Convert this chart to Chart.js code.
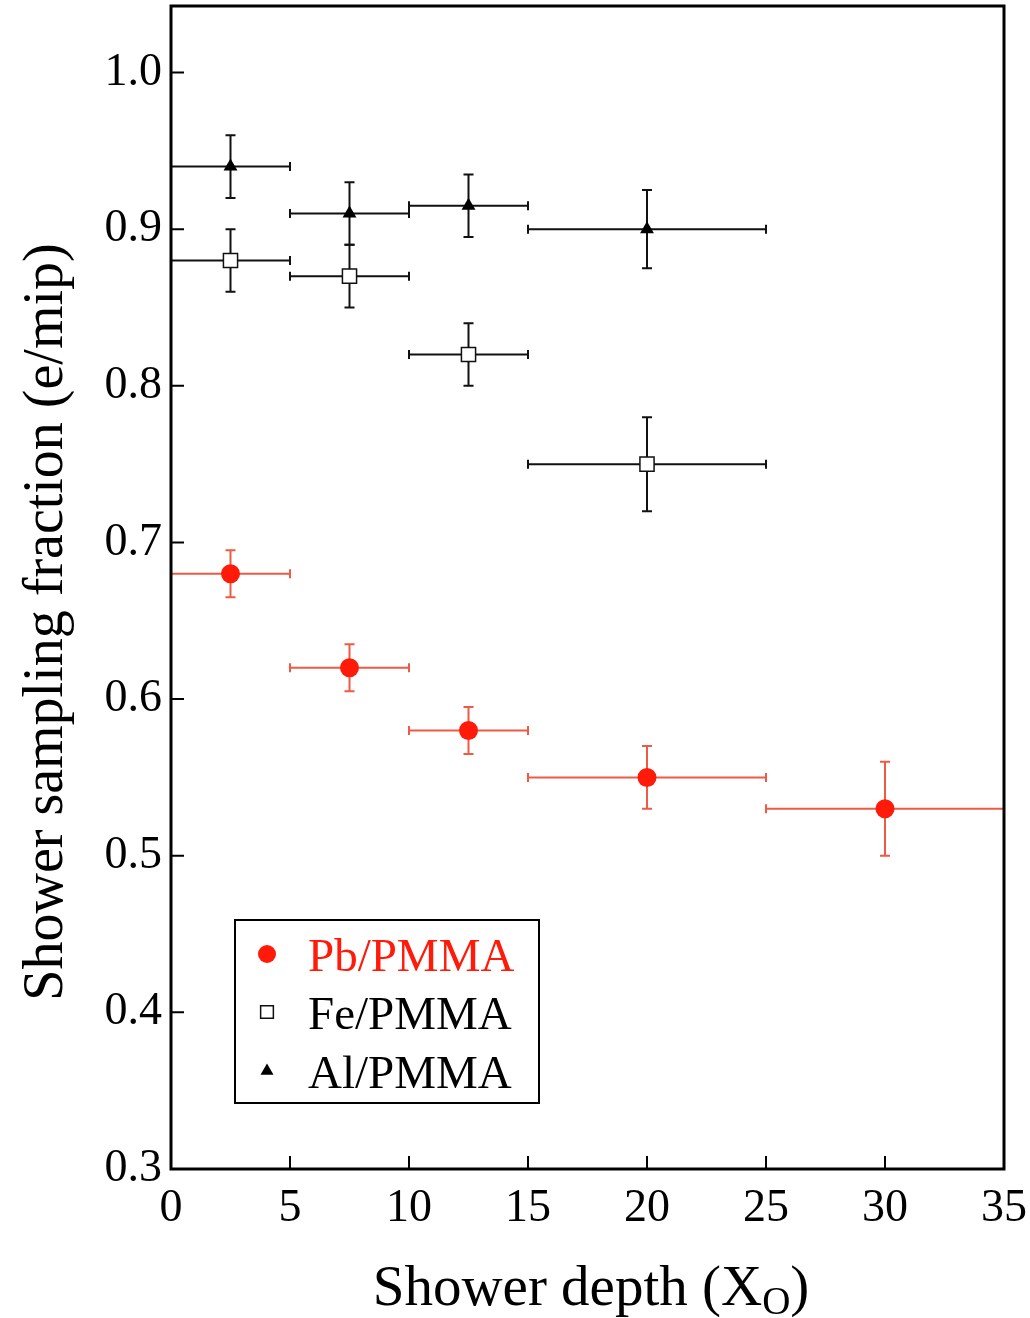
<!DOCTYPE html>
<html>
<head>
<meta charset="utf-8">
<script src="https://cdn.jsdelivr.net/npm/chart.js@4.4.0/dist/chart.umd.min.js"></script>
<style>
  html, body { margin: 0; padding: 0; background: #fff; }
  canvas { display: block; }
</style>
</head>
<body>
<canvas id="samplingChart" width="1030" height="1318"></canvas>
<script>
// Pb/PMMA
const pbDepth = [2.5, 7.5, 12.5, 20, 30];
const pbDepthErr = [2.5, 2.5, 2.5, 5, 5];
const pbFraction = [0.68, 0.62, 0.58, 0.55, 0.53];
const pbFractionErr = [0.015, 0.015, 0.015, 0.02, 0.03];

// Fe/PMMA
const feDepth = [2.5, 7.5, 12.5, 20];
const feDepthErr = [2.5, 2.5, 2.5, 5];
const feFraction = [0.88, 0.87, 0.82, 0.75];
const feFractionErr = [0.02, 0.02, 0.02, 0.03];

// Al/PMMA
const alDepth = [2.5, 7.5, 12.5, 20];
const alDepthErr = [2.5, 2.5, 2.5, 5];
const alFraction = [0.94, 0.91, 0.915, 0.90];
const alFractionErr = [0.02, 0.02, 0.02, 0.025];

const xTicks = [0, 5, 10, 15, 20, 25, 30, 35];
const yTicks = [0.3, 0.4, 0.5, 0.6, 0.7, 0.8, 0.9, 1.0];

const SERIF = "'Liberation Serif', 'Times New Roman', serif";
const RED = '#ff1a0a';

function toPoints(xs, ys) {
    return xs.map((x, i) => ({ x: x, y: ys[i] }));
}

// error bars, drawn under the markers
const errorBars = {
    id: 'errorBars',
    beforeDatasetsDraw(chart) {
        const ctx = chart.ctx;
        const xs = chart.scales.x;
        const ys = chart.scales.y;
        chart.data.datasets.forEach(ds => {
            ctx.save();
            ctx.strokeStyle = ds.errColor;
            ctx.lineWidth = 2;
            ds.data.forEach((p, i) => {
                const px = xs.getPixelForValue(p.x);
                const py = ys.getPixelForValue(p.y);
                const x0 = xs.getPixelForValue(p.x - ds.xErr[i]);
                const x1 = xs.getPixelForValue(p.x + ds.xErr[i]);
                const y0 = ys.getPixelForValue(p.y - ds.yErr[i]);
                const y1 = ys.getPixelForValue(p.y + ds.yErr[i]);
                ctx.beginPath();
                ctx.moveTo(x0, py); ctx.lineTo(x1, py);
                ctx.moveTo(x0, py - 4.5); ctx.lineTo(x0, py + 4.5);
                ctx.moveTo(x1, py - 4.5); ctx.lineTo(x1, py + 4.5);
                ctx.moveTo(px, y0); ctx.lineTo(px, y1);
                ctx.moveTo(px - 5, y0); ctx.lineTo(px + 5, y0);
                ctx.moveTo(px - 5, y1); ctx.lineTo(px + 5, y1);
                ctx.stroke();
            });
            ctx.restore();
        });
    }
};

// frame, inward ticks, axis titles, legend box
const decorations = {
    id: 'decorations',
    afterDraw(chart) {
        const ctx = chart.ctx;
        const a = chart.chartArea;
        const xs = chart.scales.x;
        const ys = chart.scales.y;
        ctx.save();

        ctx.strokeStyle = '#000';
        ctx.lineWidth = 2;
        ctx.beginPath();
        yTicks.forEach(v => {
            const y = ys.getPixelForValue(v);
            ctx.moveTo(a.left, y); ctx.lineTo(a.left + 13, y);
        });
        xTicks.forEach(v => {
            const x = xs.getPixelForValue(v);
            ctx.moveTo(x, a.bottom); ctx.lineTo(x, a.bottom - 13);
        });
        ctx.stroke();

        ctx.lineWidth = 3;
        ctx.strokeRect(a.left, a.top, a.right - a.left, a.bottom - a.top);

        // y title
        ctx.fillStyle = '#000';
        ctx.font = '56px ' + SERIF;
        ctx.textAlign = 'center';
        ctx.textBaseline = 'alphabetic';
        ctx.save();
        ctx.translate(62, 622);
        ctx.rotate(-Math.PI / 2);
        ctx.fillText('Shower sampling fraction (e/mip)', 0, 0);
        ctx.restore();

        // x title with subscript
        ctx.textAlign = 'left';
        const main = 'Shower depth (X';
        const big = '57px ' + SERIF;
        const small = '39px ' + SERIF;
        ctx.font = big;
        const w1 = ctx.measureText(main).width;
        const w3 = ctx.measureText(')').width;
        ctx.font = small;
        const w2 = ctx.measureText('O').width;
        let x = 591 - (w1 + w2 + w3) / 2;
        const base = 1305;
        ctx.font = big;
        ctx.fillText(main, x, base);
        x += w1;
        ctx.font = small;
        ctx.fillText('O', x, base + 9);
        x += w2;
        ctx.font = big;
        ctx.fillText(')', x, base);

        // legend
        ctx.lineWidth = 2;
        ctx.strokeRect(235, 920, 304, 183);
        const rows = chart.data.datasets;
        const rowY = [954, 1012, 1071];
        rows.forEach((ds, i) => {
            const cy = rowY[i];
            ctx.fillStyle = ds.legendFill;
            ctx.strokeStyle = ds.borderColor;
            ctx.lineWidth = ds.legendBorder;
            Chart.helpers.drawPoint(ctx, {
                pointStyle: ds.pointStyle,
                radius: ds.legendRadius,
                rotation: 0,
                borderWidth: ds.legendBorder
            }, 267, cy);
            ctx.fillStyle = ds.textColor;
            ctx.font = '47px ' + SERIF;
            ctx.textBaseline = 'alphabetic';
            ctx.fillText(ds.label, 308, cy + 17);
        });

        ctx.restore();
    }
};

function noPad(s) {
    s.paddingTop = 0;
    s.paddingBottom = 0;
    s.paddingLeft = 0;
    s.paddingRight = 0;
}

new Chart(document.getElementById('samplingChart'), {
    type: 'scatter',
    data: {
        datasets: [
            {
                label: 'Pb/PMMA',
                data: toPoints(pbDepth, pbFraction),
                xErr: pbDepthErr, yErr: pbFractionErr,
                errColor: '#ee5a44',
                pointStyle: 'circle', pointRadius: 9.5,
                backgroundColor: RED, borderColor: RED, borderWidth: 0,
                legendFill: RED, legendRadius: 9, legendBorder: 0, textColor: RED
            },
            {
                label: 'Fe/PMMA',
                data: toPoints(feDepth, feFraction),
                xErr: feDepthErr, yErr: feFractionErr,
                errColor: '#111',
                pointStyle: 'rect', pointRadius: 10,
                backgroundColor: '#fff', borderColor: '#111', borderWidth: 1.5,
                legendFill: '#fff', legendRadius: 9, legendBorder: 1.5, textColor: '#000'
            },
            {
                label: 'Al/PMMA',
                data: toPoints(alDepth, alFraction),
                xErr: alDepthErr, yErr: alFractionErr,
                errColor: '#111',
                pointStyle: 'triangle', pointRadius: 8,
                backgroundColor: '#000', borderColor: '#000', borderWidth: 0,
                legendFill: '#000', legendRadius: 7.5, legendBorder: 0, textColor: '#000'
            }
        ]
    },
    options: {
        responsive: false,
        devicePixelRatio: 1,
        animation: false,
        events: [],
        layout: { autoPadding: false, padding: { top: 6, right: 26, left: 0, bottom: 0 } },
        plugins: {
            legend: { display: false },
            tooltip: { enabled: false }
        },
        scales: {
            x: {
                type: 'linear',
                min: 0, max: 35,
                grid: { display: false, drawTicks: false },
                border: { display: false },
                afterFit: s => { s.height = 149; noPad(s); },
                afterBuildTicks: s => { s.ticks = xTicks.map(v => ({ value: v })); },
                ticks: {
                    padding: 12,
                    color: '#000',
                    font: { family: SERIF, size: 46 },
                    callback: v => String(v)
                }
            },
            y: {
                type: 'linear',
                min: 0.3, max: 1.0425,
                grid: { display: false, drawTicks: false },
                border: { display: false },
                afterFit: s => { s.width = 171; noPad(s); },
                afterBuildTicks: s => { s.ticks = yTicks.map(v => ({ value: v })); },
                ticks: {
                    padding: 9,
                    color: '#000',
                    font: { family: SERIF, size: 46 },
                    callback: v => v.toFixed(1)
                }
            }
        }
    },
    plugins: [errorBars, decorations]
});
</script>
</body>
</html>
